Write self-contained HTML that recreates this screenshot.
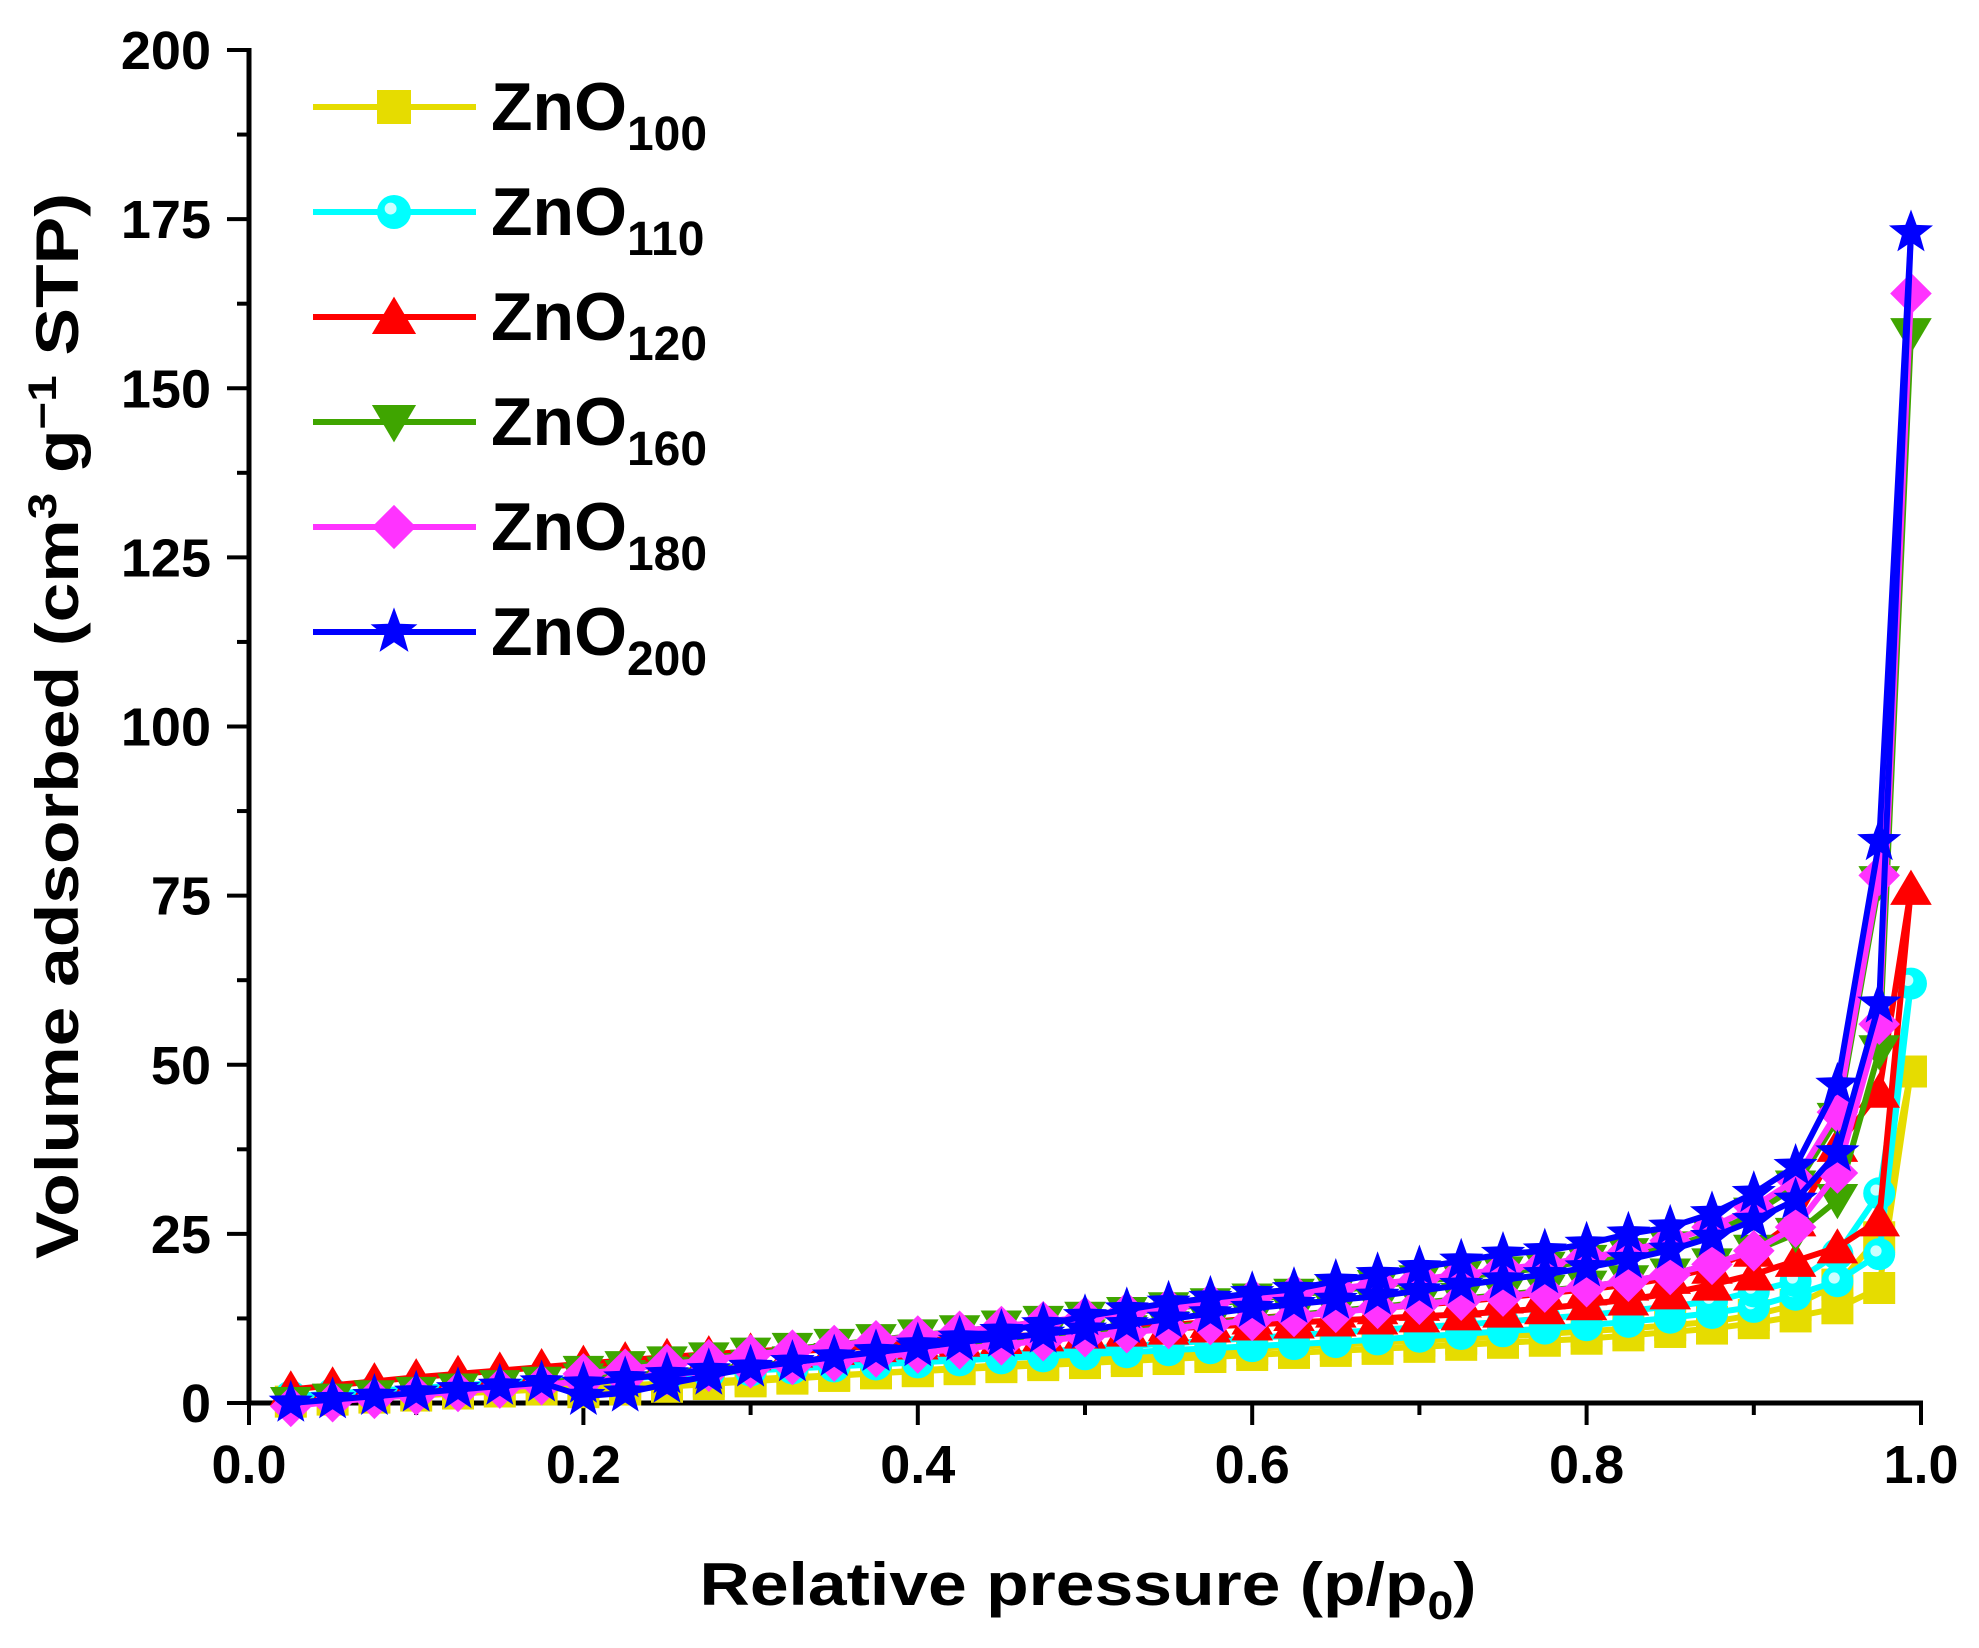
<!DOCTYPE html>
<html><head><meta charset="utf-8"><style>
html,body{margin:0;padding:0;background:#fff;}
svg{display:block;font-family:"Liberation Sans",sans-serif;font-weight:bold;}
</style></head><body>
<svg id="chart" width="1979" height="1648" viewBox="0 0 1979 1648" xmlns="http://www.w3.org/2000/svg">
<g id="axes"></g>
<g id="plot"></g>
<g id="legend"></g>
<text x="1088" y="1605" text-anchor="middle" font-size="60" textLength="777" lengthAdjust="spacingAndGlyphs">Relative pressure (p/p<tspan font-size="40" dy="14">0</tspan><tspan dy="-14">)</tspan></text>
<text transform="translate(78,726) rotate(-90)" text-anchor="middle" font-size="60" textLength="1066" lengthAdjust="spacingAndGlyphs">Volume adsorbed (cm<tspan font-size="40" dy="-22">3</tspan><tspan dy="22"> g</tspan><tspan font-size="40" dy="-22">−1</tspan><tspan dy="22"> STP)</tspan></text>
</svg>
<script>
const xTicks=[0,0.2,0.4,0.6,0.8,1.0];
const xTickLabels=["0.0","0.2","0.4","0.6","0.8","1.0"];
const yTicks=[0,25,50,75,100,125,150,175,200];
const yTickLabels=["0","25","50","75","100","125","150","175","200"];
const seriesNames=["ZnO100","ZnO110","ZnO120","ZnO160","ZnO180","ZnO200"];
const adsX=[0.025,0.05,0.075,0.1,0.125,0.15,0.175,0.2,0.225,0.25,0.275,0.3,0.325,0.35,0.375,0.4,0.425,0.45,0.475,0.5,0.525,0.55,0.575,0.6,0.625,0.65,0.675,0.7,0.725,0.75,0.775,0.8,0.825,0.85,0.875,0.9,0.925,0.95,0.975,0.994];
const desX=[0.975,0.95,0.925,0.9,0.875,0.85,0.825,0.8,0.775,0.75,0.725,0.7,0.675,0.65,0.625,0.6,0.575,0.55,0.525,0.5,0.475,0.45,0.425,0.4,0.375,0.35,0.325,0.3,0.275,0.25,0.225,0.2];
const ads100=[0.2,0.5,0.8,1.1,1.4,1.7,2.0,2.3,2.6,2.9,3.2,3.5,3.8,4.1,4.4,4.7,5.0,5.3,5.6,5.9,6.2,6.5,6.8,7.1,7.4,7.7,8.0,8.3,8.6,8.9,9.2,9.5,10.0,10.5,11.0,11.8,12.8,14.0,17.0,49];
const des100=[24.5,17.5,14.5,13,12,11.5,11,10.6,10.2,9.8,9.5,9.2,8.9,8.6,8.3,8.0,7.6,7.2,6.8,6.4,6.0,5.6,5.2,4.8,4.4,4.0,3.6,3.2,2.8,2.4,2.0,1.6];
const ads110=[1.0,1.4,1.8,2.2,2.6,3.0,3.3,3.6,3.9,4.2,4.5,4.8,5.1,5.4,5.7,6.0,6.3,6.6,6.9,7.2,7.5,7.8,8.1,8.4,8.7,9.0,9.4,9.8,10.2,10.6,11.0,11.5,12.0,12.6,13.3,14.2,16.0,18.0,22.0,62];
const des110=[31,22,18,16.5,15,14.3,13.6,13,12.5,12,11.6,11.2,10.8,10.4,10,9.6,9.2,8.8,8.4,8,7.6,7.2,6.8,6.4,6,5.6,5.2,4.8,4.4,4,3.6,3.2];
const ads120=[2.0,2.6,3.2,3.8,4.3,4.8,5.3,5.8,6.3,6.8,7.2,7.6,8.0,8.4,8.8,9.2,9.5,9.8,10.1,10.4,10.7,11.0,11.3,11.6,11.9,12.2,12.5,12.8,13.1,13.5,14.0,14.6,15.3,16.2,17.5,19.0,21.0,23.0,27.0,76];
const des120=[46,38,27,22.5,20,18.5,17.5,16.8,16.2,15.6,15,14.5,14,13.5,13,12.5,12,11.5,11,10.5,10,9.6,9.2,8.8,8.4,8,7.6,7.2,6.8,6.4,6,5.6];
const ads160=[0.0,0.5,1.0,1.5,2.0,2.5,3.0,3.5,4.0,4.5,5.0,5.5,6.0,6.5,7.0,7.6,8.2,8.8,9.4,10.0,10.6,11.2,11.8,12.4,13.0,13.6,14.2,14.8,15.4,16.0,16.6,17.2,18.0,19.0,20.5,22.5,25.0,30.0,52.0,158];
const des160=[77,42,32,28,25,23,22,21,20,19.3,18.6,18,17.3,16.6,16,15.3,14.6,14,13.3,12.6,12,11.3,10.6,10,9.3,8.6,8,7.3,6.6,6,5.3,4.6];
const ads180=[-0.5,0.2,0.7,1.2,1.7,2.2,2.7,3.2,3.7,4.2,4.7,5.2,5.7,6.2,6.8,7.4,8.0,8.6,9.2,9.8,10.4,11.0,11.6,12.2,12.8,13.4,14.0,14.6,15.2,15.8,16.4,17.2,18.0,19.0,20.5,22.5,26.0,34.0,56.0,164];
const des180=[78,43,33,29,26,24,22.5,21.5,20.5,19.8,19,18.3,17.6,16.9,16.2,15.5,14.8,14.1,13.4,12.7,12,11.3,10.6,9.9,9.2,8.5,7.8,7.1,6.4,5.7,5,4.3];
const ads200=[0.0,0.5,1.0,1.5,2.0,2.5,3.0,1.0,1.5,2.8,4.0,5.2,6.0,6.8,7.5,8.2,9.0,9.6,10.2,10.8,11.6,12.4,13.2,14.0,14.6,15.2,15.8,16.6,17.4,18.2,19.0,20.0,21.2,22.6,24.5,27.0,30.0,37.0,59.0,173];
const des200=[83,47,35,31,28,26,25,23.5,22.5,22,21,20,19,18,16.8,16.2,15.5,14.8,13.8,12.8,11.6,10.6,9.6,8.6,7.6,6.8,6,5.3,4.8,4.2,3.6,2.8];
const adsSeries=[ads100,ads110,ads120,ads160,ads180,ads200];
const desSeries=[des100,des110,des120,des160,des180,des200];
const colors=["#e6dc00","#00ffff","#ff0000","#3fa500","#ff33ff","#0000ff"];
const markers=["square","circle","triangle","tridown","diamond","star"];

const NS="http://www.w3.org/2000/svg";
const X0=249,X1=1921,Y0=1403,Y1=50;
const xs=v=>X0+(X1-X0)*v;
const ys=v=>Y0-(Y0-Y1)*v/200;
function mk(tag,attrs,parent){const e=document.createElementNS(NS,tag);for(const k in attrs)e.setAttribute(k,attrs[k]);parent.appendChild(e);return e;}
const axes=document.getElementById('axes');
let l=mk('line',{x1:X0,y1:Y0,x2:X1+2,y2:Y0,stroke:'#000','stroke-width':5},axes);

l=mk('line',{x1:X0,y1:Y0+2,x2:X0,y2:Y1-2,stroke:'#000','stroke-width':5},axes);

xTicks.forEach((v,i)=>{
  const t=mk('line',{x1:xs(v),y1:Y0,x2:xs(v),y2:Y0+22,stroke:'#000','stroke-width':4},axes);
  
  if(i<xTicks.length-1){const m=mk('line',{x1:xs(v+0.1),y1:Y0,x2:xs(v+0.1),y2:Y0+12,stroke:'#000','stroke-width':4},axes);
  }
  const tx=mk('text',{x:xs(v),y:Y0+80,'text-anchor':'middle','font-size':54},axes);tx.textContent=xTickLabels[i];
  
});
yTicks.forEach((v,i)=>{
  const t=mk('line',{x1:X0,y1:ys(v),x2:X0-22,y2:ys(v),stroke:'#000','stroke-width':4},axes);
  
  if(i<yTicks.length-1){const m=mk('line',{x1:X0,y1:ys(v+12.5),x2:X0-12,y2:ys(v+12.5),stroke:'#000','stroke-width':4},axes);
  }
  const tx=mk('text',{x:X0-38,y:ys(v)+19,'text-anchor':'end','font-size':54},axes);tx.textContent=yTickLabels[i];
  
});
function marker(type,cx,cy,col,parent,s){
  let e;
  if(type==='square')e=mk('rect',{x:cx-s,y:cy-s,width:2*s,height:2*s,fill:col},parent);
  else if(type==='circle'){e=mk('g',{},parent);mk('circle',{cx:cx,cy:cy,r:s,fill:col},e);mk('circle',{cx:cx-s*0.2,cy:cy-s*0.2,r:s*0.35,fill:'#ccffff'},e);}
  else if(type==='triangle')e=mk('polygon',{points:`${cx},${cy-s*1.2} ${cx+s*1.3},${cy+s} ${cx-s*1.3},${cy+s}`,fill:col},parent);
  else if(type==='tridown')e=mk('polygon',{points:`${cx},${cy+s*1.2} ${cx+s*1.3},${cy-s} ${cx-s*1.3},${cy-s}`,fill:col},parent);
  else if(type==='diamond')e=mk('polygon',{points:`${cx},${cy-s*1.3} ${cx+s*1.3},${cy} ${cx},${cy+s*1.3} ${cx-s*1.3},${cy}`,fill:col},parent);
  else {let p=[];for(let k=0;k<10;k++){const a=-Math.PI/2+k*Math.PI/5;const r=k%2?s*0.6:s*1.45;p.push((cx+r*Math.cos(a)).toFixed(1)+','+(cy+r*Math.sin(a)).toFixed(1));}
    e=mk('polygon',{points:p.join(' '),fill:col},parent);}
  return e;
}
const plot=document.getElementById('plot');
adsSeries.forEach((ads,si)=>{
  const g=mk('g',{},plot);
  
  
  const des=desSeries[si];
  const p1=mk('polyline',{points:ads.map((v,i)=>xs(adsX[i])+','+ys(v)).join(' '),fill:'none',stroke:colors[si],'stroke-width':6,'stroke-linejoin':'round'},g);
  
  const desPts=[[adsX[adsX.length-1],ads[ads.length-1]]].concat(des.map((v,i)=>[desX[i],v]));
  const p2=mk('polyline',{points:desPts.map(p=>xs(p[0])+','+ys(p[1])).join(' '),fill:'none',stroke:colors[si],'stroke-width':6,'stroke-linejoin':'round'},g);
  
  ads.forEach((v,i)=>{const m=marker(markers[si],xs(adsX[i]),ys(v),colors[si],g,16);
    });
  des.forEach((v,i)=>{const m=marker(markers[si],xs(desX[i]),ys(v),colors[si],g,16);
    });
});
const legend=document.getElementById('legend');
const legY=[107,212,317,422,527,632];
seriesNames.forEach((n,i)=>{
  const g=mk('g',{},legend);
  
  
  mk('line',{x1:313,y1:legY[i],x2:476,y2:legY[i],stroke:colors[i],'stroke-width':6},g);
  marker(markers[i],394,legY[i],colors[i],g,17);
  const t=mk('text',{x:491,y:legY[i]+23,'font-size':68},g);
  t.appendChild(document.createTextNode('ZnO'));
  const s=mk('tspan',{'font-size':48,dy:20},t);s.textContent=n.slice(3);
});
</script>
</body></html>
